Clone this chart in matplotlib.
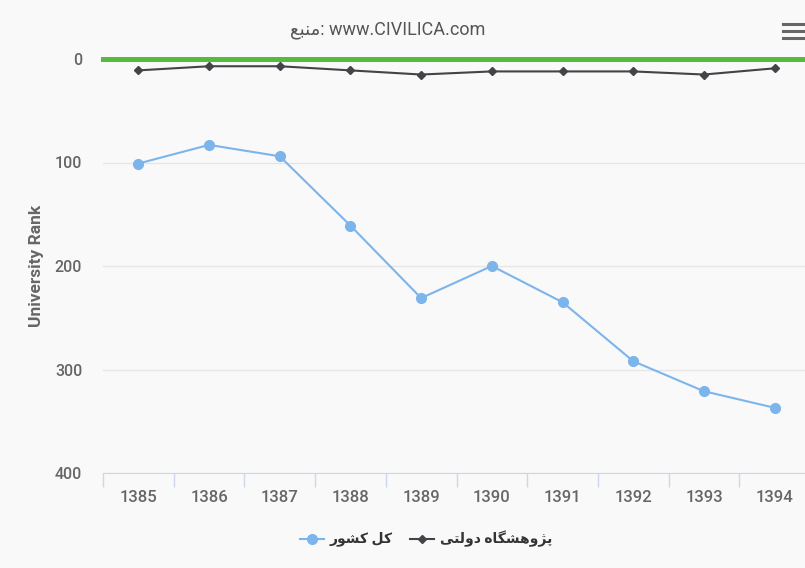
import matplotlib.pyplot as plt
from matplotlib.lines import Line2D

# data
years = ['1385', '1386', '1387', '1388', '1389', '1390', '1391', '1392', '1393', '1394']
kol_keshvar = [101, 83, 94, 161, 231, 200, 235, 292, 321, 337]
pajooheshgah = [11, 7, 7, 11, 15, 12, 12, 12, 15, 9]
rank_ticks = [0, 100, 200, 300, 400]

label_kol = 'کل کشور'
label_paj = 'پژوهشگاه دولتی'
source_word = 'منبع'

# simple persian shaping (matplotlib has no bidi / joining)
FORMS = {
    'م': (0xFEE1, 0xFEE2, 0xFEE3, 0xFEE4),
    'ن': (0xFEE5, 0xFEE6, 0xFEE7, 0xFEE8),
    'ب': (0xFE8F, 0xFE90, 0xFE91, 0xFE92),
    'ع': (0xFEC9, 0xFECA, 0xFECB, 0xFECC),
    'ک': (0xFB8E, 0xFB8F, 0xFB90, 0xFB91),
    'ل': (0xFEDD, 0xFEDE, 0xFEDF, 0xFEE0),
    'ش': (0xFEB5, 0xFEB6, 0xFEB7, 0xFEB8),
    'پ': (0xFB56, 0xFB57, 0xFB58, 0xFB59),
    'ه': (0xFEE9, 0xFEEA, 0xFEEB, 0xFEEC),
    'گ': (0xFB92, 0xFB93, 0xFB94, 0xFB95),
    'ت': (0xFE95, 0xFE96, 0xFE97, 0xFE98),
    'ی': (0xFBFC, 0xFBFD, 0xFBFE, 0xFBFF),
    'و': (0xFEED, 0xFEEE),
    'ر': (0xFEAD, 0xFEAE),
    'ژ': (0xFB8A, 0xFB8B),
    'ا': (0xFE8D, 0xFE8E),
    'د': (0xFEA9, 0xFEAA),
}


def shape(txt):
    out = []
    for i, ch in enumerate(txt):
        if ch not in FORMS:
            out.append(ch)
            continue
        prev = txt[i - 1] if i > 0 else ' '
        nxt = txt[i + 1] if i < len(txt) - 1 else ' '
        join_prev = prev in FORMS and len(FORMS[prev]) == 4
        join_next = len(FORMS[ch]) == 4 and nxt in FORMS
        f = FORMS[ch]
        if join_prev and join_next:
            c = f[3]
        elif join_prev:
            c = f[1]
        elif join_next:
            c = f[2]
        else:
            c = f[0]
        out.append(chr(c))
    # words reversed for visual LTR order
    words = ''.join(out).split(' ')
    return ' '.join(w[::-1] for w in words[::-1])


FONT = ['Roboto', 'DejaVu Sans']
plt.rcParams['font.family'] = FONT

W, H = 805, 568
fig = plt.figure(figsize=(W / 100, H / 100), dpi=100)
fig.set_facecolor('#f9f9f9')

ax = fig.add_axes([103 / W, 95 / H, 707 / W, 414 / H])
ax.set_facecolor('#f9f9f9')

x = list(range(len(years)))
ax.axhline(0, color='#55bb3a', lw=3.6, clip_on=False, zorder=4)
ax.plot(x, kol_keshvar, color='#7cb5ec', lw=1.5, marker='o', markersize=7, zorder=3)
ax.plot(x, pajooheshgah, color='#434348', lw=1.5, marker='D', markersize=4.5, zorder=3)

ax.set_xlim(-0.5, 9.5)
ax.set_ylim(400, 0)
ax.set_yticks(rank_ticks)
ax.set_xticks(x)
ax.set_xticklabels(years)
ax.tick_params(axis='y', length=0, pad=15, labelsize=11.5, labelcolor='#666666')
ax.tick_params(axis='x', length=0, pad=12, labelsize=12, labelcolor='#666666')
for lab in ax.get_xticklabels() + ax.get_yticklabels():
    lab.set_fontweight('medium')

# category boundary ticks
ax.set_xticks([i - 0.5 for i in range(len(years) + 1)], minor=True)
ax.tick_params(axis='x', which='minor', length=10, color='#ccd6eb', width=1)

ax.grid(axis='y', color='#e6e6e6', lw=1)
for s in ['top', 'left', 'right']:
    ax.spines[s].set_visible(False)
ax.spines['bottom'].set_color('#ccd6eb')

ax.set_ylabel('University Rank', fontsize=12.5, color='#666666', fontweight='bold')
ax.yaxis.set_label_coords(-0.083, 0.5)

# title
fig.text(388 / W, 1 - 30 / H, shape(source_word) + ': www.CIVILICA.com', ha='center', va='center',
         fontsize=13, color='#555555', family=FONT)

# legend
ly = 1 - 539 / H
fig.add_artist(Line2D([300 / W, 324 / W], [ly, ly], color='#7cb5ec', lw=1.5,
                      transform=fig.transFigure))
fig.add_artist(Line2D([312 / W], [ly], color='#7cb5ec', marker='o', markersize=7,
                      transform=fig.transFigure))
fig.text(330 / W, ly, shape(label_kol), ha='left', va='center', fontsize=10,
         fontweight='bold', color='#333333', family=FONT)
fig.add_artist(Line2D([410 / W, 434 / W], [ly, ly], color='#434348', lw=1.5,
                      transform=fig.transFigure))
fig.add_artist(Line2D([422 / W], [ly], color='#434348', marker='D', markersize=4.5,
                      transform=fig.transFigure))
fig.text(440 / W, ly, shape(label_paj), ha='left', va='center', fontsize=10,
         fontweight='bold', color='#333333', family=FONT)

# menu icon
for yy in [24, 31, 38]:
    fig.add_artist(Line2D([783 / W, 804 / W], [1 - yy / H, 1 - yy / H], color='#666666',
                          lw=2.2, transform=fig.transFigure))

fig.savefig('out.png', dpi=100, facecolor=fig.get_facecolor())
